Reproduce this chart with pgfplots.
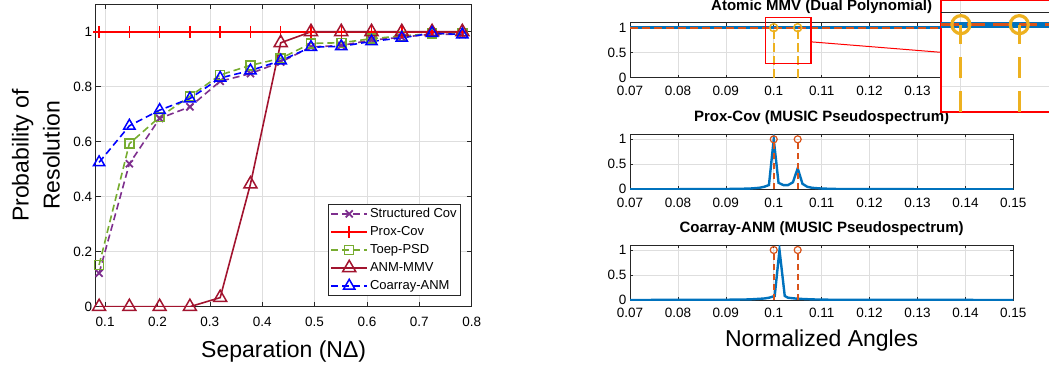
\documentclass[border=0pt]{standalone}
\usepackage{fontspec}
\setmainfont{Liberation Sans}
\usepackage{pgfplots}
\usepackage{pgfplotstable}
\pgfplotsset{compat=1.18}

\definecolor{axgray}{rgb}{0.15,0.15,0.15}
\definecolor{gridgray}{rgb}{0.87,0.87,0.87}
\definecolor{mpurple}{rgb}{0.494,0.184,0.556}
\definecolor{mgreen}{rgb}{0.466,0.674,0.188}
\definecolor{mdarkred}{rgb}{0.635,0.078,0.184}
\definecolor{mblue}{rgb}{0,0.447,0.741}
\definecolor{morange}{rgb}{0.85,0.325,0.098}
\definecolor{myellow}{rgb}{0.929,0.694,0.125}

% probability of resolution against separation
\pgfplotstableread{
x       sc     prox  toep   anm    coarray
0.0885  0.122  1     0.152  0      0.525
0.1463  0.520  1     0.593  0      0.658
0.2041  0.685  1     0.690  0      0.715
0.2619  0.727  1     0.765  0      0.757
0.3197  0.820  1     0.843  0.033  0.832
0.3775  0.848  1     0.878  0.446  0.859
0.4353  0.890  1     0.903  0.960  0.895
0.4931  0.945  1     0.958  1      0.944
0.5509  0.950  1     0.960  1      0.947
0.6087  0.970  1     0.975  1      0.965
0.6665  0.980  1     0.985  1      0.978
0.7243  0.992  1     0.993  1      0.995
0.7821  0.990  1     0.995  1      0.990
}\sepdata

% MUSIC pseudospectrum, Prox-Cov
\pgfplotstableread{
x      y
0.070  0
0.085  0.003
0.090  0.006
0.093  0.010
0.095  0.015
0.097  0.030
0.098  0.050
0.099  0.085
0.100  1.000
0.101  0.130
0.102  0.085
0.103  0.085
0.104  0.140
0.105  0.420
0.106  0.110
0.107  0.050
0.108  0.030
0.110  0.015
0.113  0.007
0.120  0.003
0.150  0
}\proxspec

% MUSIC pseudospectrum, Coarray-ANM
\pgfplotstableread{
x       y
0.070   0
0.090   0.005
0.095   0.012
0.098   0.030
0.099   0.045
0.1002  0.080
0.1012  1.000
0.1023  0.080
0.103   0.045
0.105   0.025
0.108   0.012
0.112   0.005
0.150   0
}\coarrspec

% true source angles
\pgfplotstableread{
x      y
0.100  1
0.105  1
}\truth

\pgfplotsset{
  matlab/.style={
    scale only axis,
    axis line style={draw=axgray, line width=0.7pt},
    tick style={draw=axgray, line width=0.6pt},
    tick align=inside,
    grid=major,
    major grid style={draw=gridgray, line width=0.6pt},
    ticklabel style={font=\fontsize{13.5}{16}\selectfont},
    /pgf/number format/assume math mode=true,
  },
  spec/.style={
    matlab,
    at={(630pt,#1)}, anchor=south west,
    width=383.3pt, height=55pt,
    xmin=0.07, xmax=0.15, ymin=0, ymax=1.1,
    xtick={0.07,0.08,0.09,0.1,0.11,0.12,0.13,0.14,0.15},
    xticklabels={0.07,0.08,0.09,0.1,0.11,0.12,0.13,0.14,0.15},
    ytick={0,0.5,1}, yticklabels={0,0.5,1},
    major tick length=3pt,
    xticklabel style={yshift=-5pt},
    title style={at={(0.5,1)}, anchor=base, yshift=6.7pt,
      font=\fontsize{15}{18}\selectfont\bfseries},
  },
  stem/.style={
    draw=#1, line width=1.8pt, dash pattern=on 6pt off 4pt,
  },
}

\begin{document}
\begin{tikzpicture}[x=1pt,y=1pt]
\useasboundingbox (0,0) rectangle (1049,368);
\clip (0,0) rectangle (1049,368);

% ---------------- left: resolution probability ----------------
\begin{axis}[matlab,
  at={(95.7pt,61.3pt)}, anchor=south west,
  width=376pt, height=302.4pt,
  xmin=0.082, xmax=0.8, ymin=0, ymax=1.1,
  xtick={0.1,0.2,0.3,0.4,0.5,0.6,0.7,0.8},
  xticklabels={0.1,0.2,0.3,0.4,0.5,0.6,0.7,0.8},
  ytick={0,0.2,0.4,0.6,0.8,1},
  yticklabels={0,0.2,0.4,0.6,0.8,1},
  xticklabel style={yshift=-7pt},
  major tick length=5pt,
  xlabel={Separation (NΔ)},
  ylabel={Probability of\\Resolution},
  xlabel style={at={(rel axis cs:0.5,-0.1696)}, anchor=base,
    font=\fontsize{23}{28}\selectfont},
  ylabel style={at={(rel axis cs:-0.159,0.5)}, anchor=center,
    align=center, font=\fontsize{23}{31}\selectfont},
  legend cell align=left,
  legend image code/.code={
    \draw[mark repeat=2,mark phase=2,#1]
      plot coordinates {(0pt,0pt) (18pt,0pt) (36pt,0pt)};
  },
  legend style={at={(0.9716,0.3396)}, anchor=north east,
    draw=axgray, line width=0.6pt, fill=white,
    font=\fontsize{13}{15}\selectfont,
    inner xsep=2pt, inner ysep=2pt, row sep=3pt,
    nodes={inner ysep=1pt, text height=10pt, text depth=3pt}},
]
\addplot[mpurple, line width=1.6pt, dash pattern=on 7pt off 4pt,
  mark=x, mark size=5pt, mark options={solid, line width=1.8pt}]
  table[x=x, y=sc] {\sepdata};
\addlegendentry{Structured Cov}
\addplot[red, line width=1.6pt,
  mark=+, mark size=6pt, mark options={solid, line width=1.5pt}]
  table[x=x, y=prox] {\sepdata};
\addlegendentry{Prox-Cov}
\addplot[mgreen, line width=1.6pt, dash pattern=on 7pt off 4pt,
  mark=square, mark size=4.5pt, mark options={solid, line width=1.5pt}]
  table[x=x, y=toep] {\sepdata};
\addlegendentry{Toep-PSD}
\addplot[mdarkred, line width=1.6pt,
  mark=triangle, mark size=7.5pt, mark options={solid, line width=1.5pt}]
  table[x=x, y=anm] {\sepdata};
\addlegendentry{ANM-MMV}
\addplot[blue, line width=1.6pt, dash pattern=on 7pt off 4pt,
  mark=triangle, mark size=6.5pt, mark options={solid, line width=1.5pt}]
  table[x=x, y=coarray] {\sepdata};
\addlegendentry{Coarray-ANM}
\end{axis}

% ---------------- right: atomic MMV dual polynomial ----------------
\begin{axis}[spec=290.3pt,
  title={Atomic MMV (Dual Polynomial)}]
\addplot[draw=mblue, line width=3pt] coordinates {(0.07,1) (0.15,1)};
\addplot[draw=morange, line width=1.8pt, dash pattern=on 8pt off 4pt]
  coordinates {(0.07,1) (0.15,1)};
\addplot[stem=myellow, dash pattern=on 9pt off 4pt]
  coordinates {(0.1,0) (0.1,1)};
\addplot[stem=myellow, dash pattern=on 9pt off 4pt]
  coordinates {(0.105,0) (0.105,1)};
\addplot[only marks, mark=o, mark size=4pt,
  mark options={draw=myellow, line width=1.5pt}] table {\truth};
\coordinate (boxLL) at (axis cs:0.0983,0.29);
\coordinate (boxUR) at (axis cs:0.1078,1.2);
\coordinate (zoomA) at (axis cs:0.1078,0.717);
\end{axis}
% frame of the magnified region
\draw[draw={rgb,1:red,1;green,0;blue,0}, line width=1.4pt] (boxLL) rectangle (boxUR);

% ---------------- right: Prox-Cov pseudospectrum ----------------
\begin{axis}[spec=178.7pt,
  title={Prox-Cov (MUSIC Pseudospectrum)}]
\addplot[draw=mblue, line width=2.4pt] table {\proxspec};
\addplot[stem=morange] coordinates {(0.1,0) (0.1,1)};
\addplot[stem=morange] coordinates {(0.105,0) (0.105,1)};
\addplot[only marks, mark=o, mark size=3.5pt,
  mark options={draw=morange, line width=1.2pt}] table {\truth};
\end{axis}

% ---------------- right: Coarray-ANM pseudospectrum ----------------
\begin{axis}[spec=68pt,
  title={Coarray-ANM (MUSIC Pseudospectrum)},
  xlabel={Normalized Angles},
  xlabel style={at={(rel axis cs:0.5,-0.838)}, anchor=base,
    font=\fontsize{23}{28}\selectfont}]
\addplot[draw=mblue, line width=2.4pt] table {\coarrspec};
\addplot[stem=morange] coordinates {(0.1,0) (0.1,1)};
\addplot[stem=morange] coordinates {(0.105,0) (0.105,1)};
\addplot[only marks, mark=o, mark size=3.5pt,
  mark options={draw=morange, line width=1.2pt}] table {\truth};
\end{axis}

% ---------------- magnified view of the two true angles ----------------
\begin{axis}[
  scale only axis,
  at={(941pt,256pt)}, anchor=south west,
  width=111pt, height=112pt,
  xmin=0.0983, xmax=0.1078, ymin=0.29, ymax=1.2,
  axis background/.style={fill=white},
  axis line style={draw=red, line width=1.6pt},
  xtick={0.1}, ytick={0.5},
  xticklabels={}, yticklabels={},
  major tick length=0pt,
  grid=major,
  major grid style={draw=gridgray, line width=1pt},
]
\addplot[draw=axgray, line width=1.2pt] coordinates {(0.0983,1.1) (0.1078,1.1)};
\addplot[draw=gray, line width=1pt] coordinates {(0.1,1.1) (0.1,1.06)};
\addplot[draw=mblue, line width=6pt] coordinates {(0.0983,1) (0.1078,1)};
\addplot[draw=morange, line width=3.5pt, dash pattern=on 18pt off 8pt]
  coordinates {(0.0983,1) (0.1078,1)};
\addplot[draw=myellow, line width=3.2pt, dash pattern=on 21pt off 13pt]
  coordinates {(0.1,0.29) (0.1,1)};
\addplot[draw=myellow, line width=3.2pt, dash pattern=on 21pt off 13pt]
  coordinates {(0.105,0.29) (0.105,1)};
\addplot[only marks, mark=o, mark size=9pt,
  mark options={draw=myellow, line width=3.2pt}] table {\truth};
\coordinate (zoomB) at (axis cs:0.0983,0.775);
\end{axis}
\draw[red, line width=1pt] (zoomA) -- (zoomB);
\end{tikzpicture}
\end{document}
